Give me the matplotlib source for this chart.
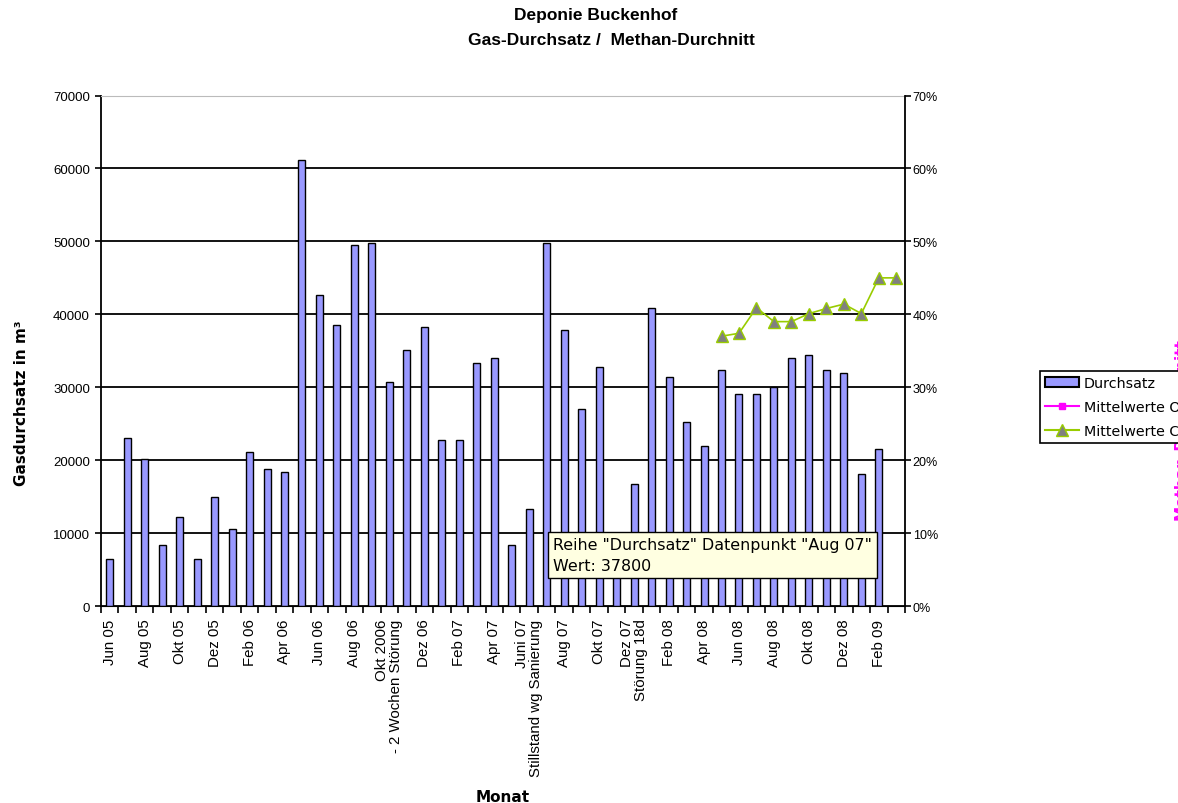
import matplotlib
matplotlib.use("Agg")
import matplotlib.pyplot as plt
import numpy as np
from matplotlib.patches import Patch
from matplotlib.lines import Line2D

plt.rcParams['font.family'] = ['Liberation Sans', 'DejaVu Sans']

months = ["Jun 05", "Jul 05", "Aug 05", "Sep 05", "Okt 05", "Nov 05", "Dez 05",
          "Jan 06", "Feb 06", "Mrz 06", "Apr 06", "Mai 06", "Jun 06", "Jul 06",
          "Aug 06", "Sep 06", "Okt 2006\n- 2 Wochen Störung", "Nov 06", "Dez 06",
          "Jan 07", "Feb 07", "Mrz 07", "Apr 07", "Mai 07",
          "Juni 07\nStillstand wg Sanierung", "Jul 07", "Aug 07", "Sep 07", "Okt 07",
          "Nov 07", "Dez 07\nStörung 18d", "Jan 08", "Feb 08", "Mrz 08", "Apr 08",
          "Mai 08", "Jun 08", "Jul 08", "Aug 08", "Sep 08", "Okt 08", "Nov 08",
          "Dez 08", "Jan 09", "Feb 09", "Mrz 09"]

durchsatz = [6500, 23000, 20200, 8300, 12200, 6500, 15000,
             10600, 21100, 18800, 18400, 61100, 42700, 38500,
             49500, 49800, 30700, 35100, 38300,
             22700, 22700, 33300, 34000, 8300,
             13300, 49800, 37800, 27000, 32800,
             8000, 16800, 40800, 31400, 25300, 22000,
             32300, 29100, 29100, 30000, 34000, 34400, 32300,
             31900, 18100, 21600, np.nan]

ch4_months = ["Mai 08", "Jun 08", "Jul 08", "Aug 08", "Sep 08", "Okt 08",
              "Nov 08", "Dez 08", "Jan 09", "Feb 09", "Mrz 09"]
ch4_values = [0.370, 0.374, 0.409, 0.390, 0.390, 0.401, 0.408, 0.414, 0.401, 0.450, 0.450]

o2_months = []
o2_values = []

fig = plt.figure(figsize=(11.78, 8.04), dpi=100)
ax = fig.add_axes([0.0857, 0.245, 0.6826, 0.6349])

x = np.arange(len(months))
ax.bar(x, durchsatz, width=0.4, color='#9999FF', edgecolor='black', linewidth=1.0, zorder=3)

ax.set_xlim(-0.5, len(months) - 0.5)
ax.set_ylim(0, 70000)
ax.set_yticks(np.arange(0, 70001, 10000))
ax.set_yticklabels([str(v) for v in range(0, 70001, 10000)], fontsize=9.5)
for v in range(10000, 70000, 10000):
    ax.axhline(v, color='black', linewidth=1.3, zorder=1)
ax.spines['top'].set_color('#BBBBBB')
ax.spines['right'].set_visible(False)
ax.spines['left'].set_linewidth(1.3)
ax.spines['bottom'].set_linewidth(1.3)
ax.tick_params(axis='y', direction='out', length=4, width=1.2, pad=4)

ax.set_xticks(np.arange(-0.5, len(months), 1.0), minor=True)
ax.set_xticks(x[::2])
ax.set_xticklabels([months[i] for i in x[::2]], rotation=90, fontsize=10.8,
                   va='top', ha='center', multialignment='right', linespacing=1.0)
ax.tick_params(axis='x', which='major', length=0, pad=9)
ax.tick_params(axis='x', which='minor', direction='out', length=5, width=1.2)

ax.set_ylabel("Gasdurchsatz in m³", fontsize=11, fontweight='bold', family=['DejaVu Sans'])
ax.yaxis.label.set_va('center')
ax.yaxis.set_label_coords(-0.099, 0.40)
ax.set_xlabel("Monat", fontsize=11, fontweight='bold', family=['DejaVu Sans'])
ax.xaxis.label.set_va('center')
ax.xaxis.set_label_coords(0.5, -0.3725)

ax2 = ax.twinx()
ax2.set_ylim(0, 0.7)
ax2.set_yticks(np.arange(0, 0.71, 0.1))
ax2.set_yticklabels([f"{int(round(v*100))}%" for v in np.arange(0, 0.71, 0.1)], fontsize=9)
ax2.spines['right'].set_linewidth(1.3)
ax2.spines['top'].set_visible(False)
ax2.spines['left'].set_visible(False)
ax2.tick_params(axis='y', direction='out', length=4, width=1.2, pad=1.5)
ch4_x = [months.index(m) for m in ch4_months]
ax2.plot(ch4_x, ch4_values, color='#99CC00', linewidth=1.2, marker='^',
         markersize=8, markerfacecolor='#808080', markeredgecolor='#99CC00', zorder=4)
ax2.plot([months.index(m) for m in o2_months], o2_values, color='#FF00FF',
         marker='s', markersize=4)

fig.text(0.506, 0.981, "Deponie Buckenhof", ha='center', va='center', fontsize=12.5, fontweight='bold')
fig.text(0.519, 0.950, "Gas-Durchsatz /  Methan-Durchnitt", ha='center', va='center', fontsize=12.5, fontweight='bold')

# tooltip
ax.text(25.36, 7000, 'Reihe "Durchsatz" Datenpunkt "Aug 07"\nWert: 37800', fontsize=11.4,
        family=['DejaVu Sans'], ha='left', va='center', linespacing=1.5, zorder=6,
        bbox=dict(boxstyle='square,pad=0.3', facecolor='#FFFFE1', edgecolor='black', linewidth=1))

# clipped right-hand axis title (only a sliver visible, as in the source)
fig.text(0.9965, 0.466, "Methan-Durchschnitt", rotation=90, color='#FF00FF',
         fontsize=11, fontweight='bold', family=['DejaVu Sans'], ha='left', va='center',
         zorder=1)

handles = [Patch(facecolor='#9999FF', edgecolor='black', linewidth=1.5),
           Line2D([], [], color='#FF00FF', marker='s', markersize=5),
           Line2D([], [], color='#99CC00', marker='^', markersize=8,
                  markerfacecolor='#808080', markeredgecolor='#99CC00')]
labels = ["Durchsatz", "Mittelwerte O2", "Mittelwerte CH4"]
leg = fig.legend(handles, labels, loc='upper left', bbox_to_anchor=(0.8825, 0.5375),
                 prop={'family': 'DejaVu Sans', 'size': 10.3}, frameon=True, fancybox=False,
                 edgecolor='black', framealpha=1, borderpad=0.35, labelspacing=0.72,
                 handlelength=2.4, handletextpad=0.35, borderaxespad=0)
leg.get_frame().set_linewidth(1.2)
leg.set_zorder(10)

fig.savefig("out.png", dpi=100)
